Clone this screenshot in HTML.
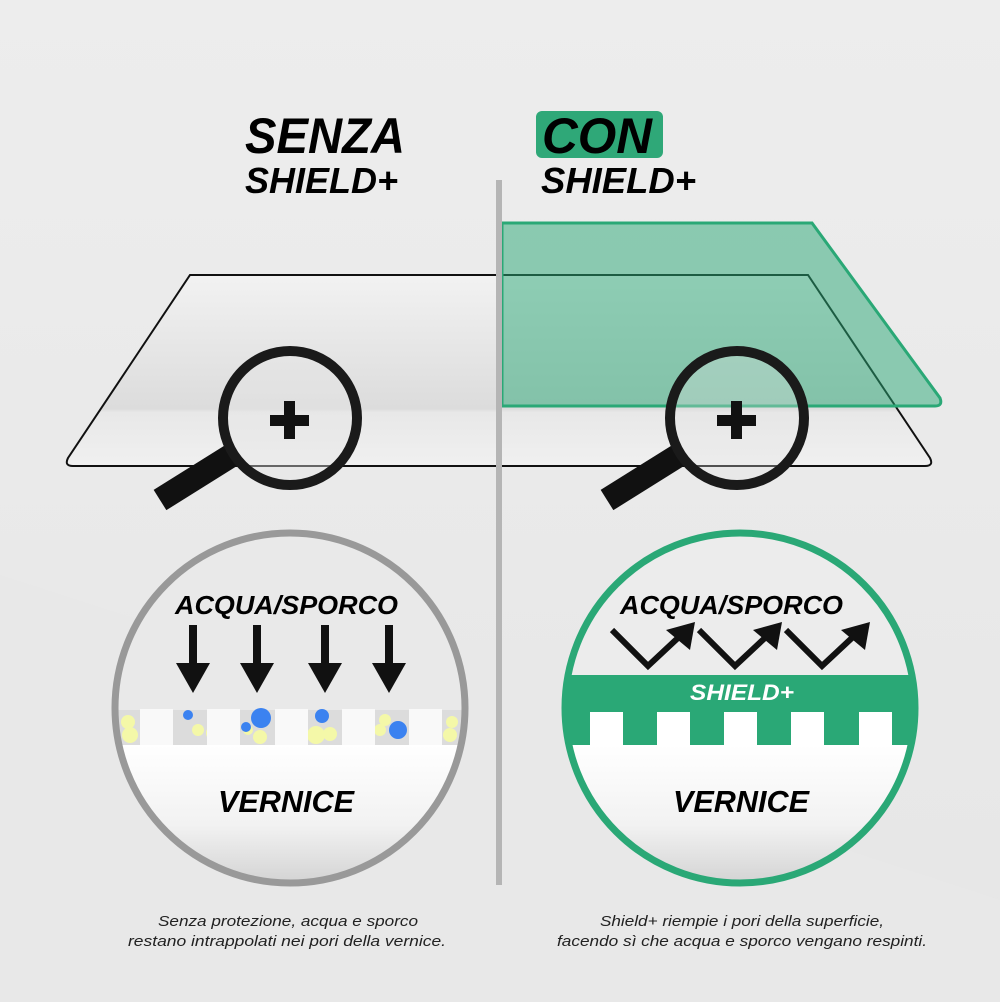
<!DOCTYPE html>
<html><head><meta charset="utf-8"><style>
html,body{margin:0;padding:0}
body{width:1000px;height:1002px;overflow:hidden;background:#ececec}
svg{display:block}
.t{font-family:"Liberation Sans",sans-serif;font-weight:bold;font-style:italic}
</style></head><body>
<svg width="1000" height="1002" viewBox="0 0 1000 1002" xmlns="http://www.w3.org/2000/svg">
<defs>
<linearGradient id="bg" x1="0" y1="0" x2="0" y2="1"><stop offset="0" stop-color="#ededed"/><stop offset="1" stop-color="#e6e6e6"/></linearGradient>
<linearGradient id="ws" x1="0" y1="0" x2="0" y2="1"><stop offset="0" stop-color="#f2f2f2"/><stop offset="0.7" stop-color="#dcdcdc"/><stop offset="0.72" stop-color="#e8e8e8"/><stop offset="1" stop-color="#f0f0f0"/></linearGradient>
<linearGradient id="ver" x1="0" y1="0" x2="0" y2="1"><stop offset="0" stop-color="#ffffff"/><stop offset="0.5" stop-color="#f2f2f2"/><stop offset="1" stop-color="#c8c8c8"/></linearGradient>
<clipPath id="cl"><circle cx="290" cy="708" r="175"/></clipPath>
<clipPath id="cr"><circle cx="740" cy="708" r="175"/></clipPath>
</defs>
<rect width="1000" height="1002" fill="url(#bg)"/>
<polygon points="0,575 1000,900 1000,1002 0,1002" fill="#e8e8e8"/>

<path d="M190,275 L808,275 L930,458 Q934,466 925,466 L73,466 Q64,466 68,458 Z" fill="url(#ws)" stroke="#111" stroke-width="2"/>
<path d="M502,223 L812,223 L940,398 Q943,406 935,406 L502,406 Z" fill="#2aa876" fill-opacity="0.5" stroke="#2aa876" stroke-width="3"/>

<rect x="496" y="180" width="6" height="705" fill="#b5b5b5"/>

<g>
<line x1="160" y1="500" x2="232" y2="455" stroke="#111" stroke-width="24"/>
<circle cx="290" cy="418" r="67" fill="#e6e6e6" fill-opacity="0.4" stroke="#1a1a1a" stroke-width="10"/>
<rect x="270" y="415" width="39" height="11" fill="#111"/><rect x="284" y="401" width="11" height="38" fill="#111"/>
</g>
<g>
<line x1="607" y1="500" x2="679" y2="455" stroke="#111" stroke-width="24"/>
<circle cx="737" cy="418" r="67" fill="#e6e6e6" fill-opacity="0.3" stroke="#1a1a1a" stroke-width="10"/>
<rect x="717" y="415" width="39" height="11" fill="#111"/><rect x="731" y="401" width="11" height="38" fill="#111"/>
</g>

<text class="t" x="245" y="153" font-size="50" textLength="160" lengthAdjust="spacingAndGlyphs" fill="#000">SENZA</text>
<text class="t" x="245" y="193" font-size="36" textLength="153" lengthAdjust="spacingAndGlyphs" fill="#000">SHIELD+</text>
<rect x="536" y="111" width="127" height="47" rx="6" fill="#2fa878"/>
<text class="t" x="542" y="153" font-size="50" textLength="110" lengthAdjust="spacingAndGlyphs" fill="#000">CON</text>
<text class="t" x="541" y="193" font-size="36" textLength="155" lengthAdjust="spacingAndGlyphs" fill="#000">SHIELD+</text>

<g clip-path="url(#cl)">
<rect x="100" y="520" width="380" height="380" fill="#e9e9e9"/>
<rect x="100" y="710" width="380" height="35" fill="#dcdcdc"/>
<g fill="#f4f8a8">
<circle cx="128" cy="722" r="7"/><circle cx="130" cy="735" r="8"/>
<circle cx="198" cy="730" r="6"/><circle cx="214" cy="733" r="8"/>
<circle cx="260" cy="737" r="7"/><circle cx="248" cy="730" r="5"/>
<circle cx="316" cy="735" r="9"/><circle cx="330" cy="734" r="7"/>
<circle cx="385" cy="720" r="6"/><circle cx="380" cy="730" r="6"/>
<circle cx="452" cy="722" r="6"/><circle cx="450" cy="735" r="7"/>
</g>
<g fill="#3b82f0">
<circle cx="188" cy="715" r="5"/>
<circle cx="261" cy="718" r="10"/><circle cx="246" cy="727" r="5"/>
<circle cx="322" cy="716" r="7"/>
<circle cx="398" cy="730" r="9"/>
</g>
<g fill="#f9f9f9">
<rect x="140" y="709" width="33" height="36"/><rect x="207" y="709" width="33" height="36"/><rect x="275" y="709" width="33" height="36"/><rect x="342" y="709" width="33" height="36"/><rect x="409" y="709" width="33" height="36"/>
</g>
<rect x="100" y="745" width="380" height="160" fill="url(#ver)"/>
</g>
<circle cx="290" cy="708" r="175" fill="none" stroke="#999" stroke-width="7"/>
<text class="t" x="175" y="614" font-size="26" textLength="223" lengthAdjust="spacingAndGlyphs" fill="#000">ACQUA/SPORCO</text>
<g fill="#111">
<rect x="189" y="625" width="8" height="40"/><polygon points="176,663 210,663 193,693"/>
<rect x="253" y="625" width="8" height="40"/><polygon points="240,663 274,663 257,693"/>
<rect x="321" y="625" width="8" height="40"/><polygon points="308,663 342,663 325,693"/>
<rect x="385" y="625" width="8" height="40"/><polygon points="372,663 406,663 389,693"/>
</g>
<text class="t" x="218" y="812" font-size="31" textLength="136" lengthAdjust="spacingAndGlyphs" fill="#000">VERNICE</text>

<g clip-path="url(#cr)">
<rect x="550" y="520" width="380" height="380" fill="#ececec"/>
<rect x="550" y="675" width="380" height="72" fill="#2aa876"/>
<g fill="#fff">
<rect x="590" y="712" width="33" height="35"/><rect x="657" y="712" width="33" height="35"/><rect x="724" y="712" width="33" height="35"/><rect x="791" y="712" width="33" height="35"/><rect x="859" y="712" width="33" height="35"/>
</g>
<rect x="550" y="745" width="380" height="160" fill="url(#ver)"/>
</g>
<circle cx="740" cy="708" r="175" fill="none" stroke="#2aa876" stroke-width="7"/>
<text class="t" x="620" y="614" font-size="26" textLength="223" lengthAdjust="spacingAndGlyphs" fill="#000">ACQUA/SPORCO</text>
<g fill="none" stroke="#111" stroke-width="6">
<polyline points="612,630 648,666 680,636"/>
<polyline points="699,630 735,666 767,636"/>
<polyline points="786,630 822,666 854,636"/>
</g>
<g fill="#111">
<polygon points="695,622 690,650 666,630"/>
<polygon points="782,622 777,650 753,630"/>
<polygon points="870,622 865,650 841,630"/>
</g>
<text class="t" x="690" y="700" font-size="22" textLength="104" lengthAdjust="spacingAndGlyphs" fill="#fff">SHIELD+</text>
<text class="t" x="673" y="812" font-size="31" textLength="136" lengthAdjust="spacingAndGlyphs" fill="#000">VERNICE</text>

<g font-family="Liberation Sans, sans-serif" font-style="italic" font-size="15" fill="#222">
<text x="158" y="926" textLength="260" lengthAdjust="spacingAndGlyphs">Senza protezione, acqua e sporco</text>
<text x="128" y="946" textLength="318" lengthAdjust="spacingAndGlyphs">restano intrappolati nei pori della vernice.</text>
<text x="600" y="926" textLength="284" lengthAdjust="spacingAndGlyphs">Shield+ riempie i pori della superficie,</text>
<text x="557" y="946" textLength="370" lengthAdjust="spacingAndGlyphs">facendo sì che acqua e sporco vengano respinti.</text>
</g>
</svg>
</body></html>
